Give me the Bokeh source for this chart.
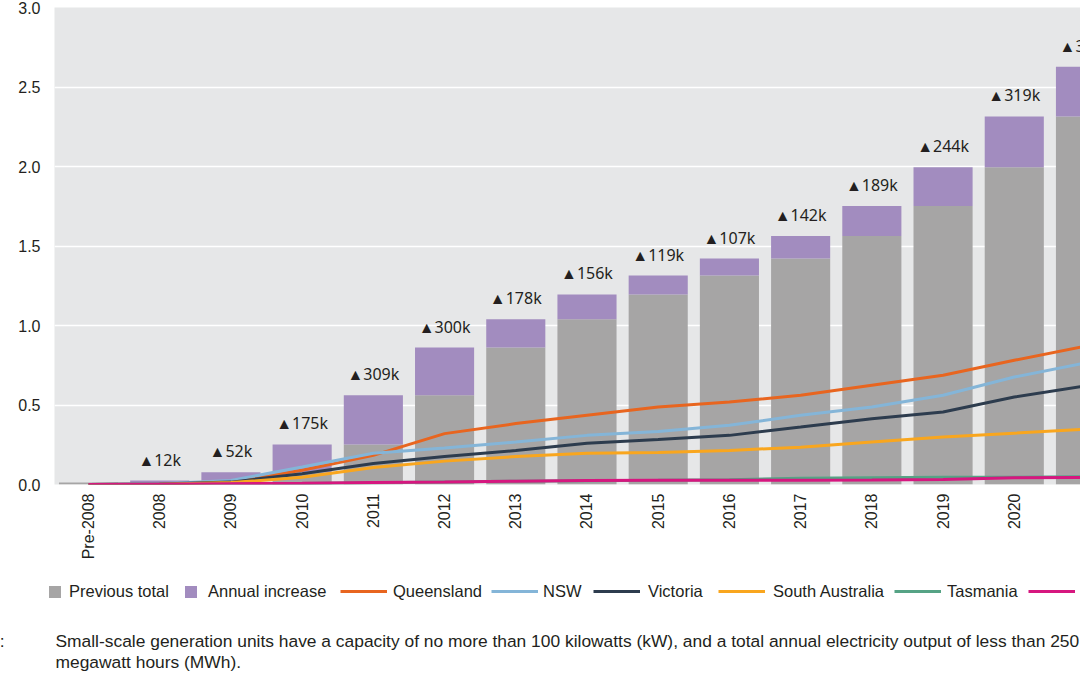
from math import pi
from bokeh.plotting import figure
from bokeh.layouts import column
from bokeh.models import (Range1d, FixedTicker, SingleIntervalTicker, NumeralTickFormatter,
                          Legend, LegendItem, Label)
from bokeh.core.properties import value
from bokeh.embed import file_html
from bokeh.resources import INLINE

# ---------------- data (millions of installations) ----------------
categories = ["Pre-2008", "2008", "2009", "2010", "2011", "2012", "2013", "2014",
              "2015", "2016", "2017", "2018", "2019", "2020", "2021"]
previous_total = [0.013, 0.013, 0.025, 0.077, 0.252, 0.561, 0.861, 1.039, 1.195,
                  1.314, 1.421, 1.563, 1.752, 1.996, 2.315]
annual_increase = [0.0, 0.012, 0.052, 0.175, 0.309, 0.300, 0.178, 0.156, 0.119,
                   0.107, 0.142, 0.189, 0.244, 0.319, 0.313]
increase_labels = ["", "▲12k", "▲52k", "▲175k", "▲309k", "▲300k", "▲178k", "▲156k",
                   "▲119k", "▲107k", "▲142k", "▲189k", "▲244k", "▲319k", "▲313k"]

queensland = [0.0, 0.003, 0.018, 0.09, 0.183, 0.32, 0.383, 0.435, 0.487, 0.519,
              0.561, 0.624, 0.687, 0.781, 0.87]
nsw = [0.0, 0.004, 0.025, 0.11, 0.197, 0.229, 0.267, 0.309, 0.333, 0.372,
       0.435, 0.487, 0.561, 0.676, 0.765]
victoria = [0.0, 0.003, 0.015, 0.068, 0.132, 0.176, 0.214, 0.26, 0.283, 0.309,
            0.361, 0.414, 0.456, 0.55, 0.62]
south_australia = [0.0, 0.002, 0.012, 0.045, 0.107, 0.147, 0.176, 0.197, 0.202, 0.214,
                   0.235, 0.267, 0.298, 0.323, 0.348]
tasmania = [0.0, 0.001, 0.003, 0.006, 0.011, 0.016, 0.021, 0.024, 0.026, 0.030,
            0.040, 0.043, 0.045, 0.046, 0.049]
act = [0.0, 0.002, 0.005, 0.008, 0.012, 0.015, 0.021, 0.025, 0.026, 0.027,
       0.027, 0.028, 0.031, 0.042, 0.045]

series = [("Queensland", queensland, "#e8651f"),
          ("NSW", nsw, "#84b5d8"),
          ("Victoria", victoria, "#2d3c4e"),
          ("South Australia", south_australia, "#f9a61e"),
          ("Tasmania", tasmania, "#56a385"),
          ("ACT", act, "#d6177f")]

note_label = "Note:"
footnote_1 = ("Small-scale generation units have a capacity of no more than 100 kilowatts (kW), "
              "and a total annual electricity output of less than 250")
footnote_2 = "megawatt hours (MWh)."

FONT = "Liberation Sans"
TXT = "#231f20"
GRAY = "#a6a5a5"
PURPLE = "#a28cbf"

xs = list(range(len(categories)))
tops = [a + b for a, b in zip(previous_total, annual_increase)]

# ---------------- main chart ----------------
p = figure(width=1080, height=570, output_backend="svg", toolbar_location=None,
           x_range=Range1d(-0.4775, 13.93), y_range=Range1d(0, 3.0),
           min_border_left=54, min_border_right=0, min_border_top=7, min_border_bottom=86)
p.frame_align = False
p.background_fill_color = "#e6e7e8"
p.border_fill_color = "white"
p.outline_line_color = None

p.vbar(x=xs, top=previous_total, bottom=0, width=0.83, fill_color=GRAY, line_color=None)
p.vbar(x=xs, top=tops, bottom=previous_total, width=0.83, fill_color=PURPLE, line_color=None)

for name, vals, col in series:
    p.line(xs, vals, line_color=col, line_width=3)

p.text(x=xs[1:], y=tops[1:], text=increase_labels[1:], text_align="center",
       text_baseline="middle", y_offset=-21, text_font=value("Noto Sans"),
       text_font_size="16px", text_color=TXT)

p.xaxis.ticker = FixedTicker(ticks=xs)
p.xaxis.major_label_overrides = {i: c for i, c in enumerate(categories)}
p.xaxis.major_label_orientation = pi / 2
p.yaxis.ticker = SingleIntervalTicker(interval=0.5)
p.yaxis.formatter = NumeralTickFormatter(format="0.0")
for ax in (p.xaxis, p.yaxis):
    ax.axis_line_color = None
    ax.major_tick_line_color = None
    ax.minor_tick_line_color = None
    ax.major_tick_out = 0
    ax.major_tick_in = 0
    ax.major_label_text_font = FONT
    ax.major_label_text_font_size = "16px"
    ax.major_label_text_color = TXT
p.xaxis.major_label_standoff = 9
p.yaxis.major_label_standoff = 10

p.xgrid.grid_line_color = None
p.ygrid.grid_line_color = "white"
p.ygrid.grid_line_width = 1.5

# ---------------- legend + footnote strip ----------------
H2 = 105
q = figure(width=1080, height=H2, output_backend="svg", toolbar_location=None,
           x_range=Range1d(0, 1080), y_range=Range1d(0, H2),
           x_axis_location=None, y_axis_location=None,
           min_border=0, min_border_left=0, min_border_right=0,
           min_border_top=0, min_border_bottom=0)
q.frame_align = False
q.grid.visible = False
q.outline_line_color = None
q.background_fill_color = "white"
q.border_fill_color = "white"

OFF = [-1000]
d_prev = q.vbar(x=OFF, top=OFF, width=1, fill_color=GRAY, line_color=None)
d_inc = q.vbar(x=OFF, top=OFF, width=1, fill_color=PURPLE, line_color=None)
line_renderers = []
for name, vals, col in series:
    line_renderers.append((name, q.line(x=OFF, y=OFF, line_color=col, line_width=3)))


def add_legend(label, renderer, x0, gw, gh, standoff):
    lg = Legend(items=[LegendItem(label=label, renderers=[renderer])],
                location=(x0, 74), orientation="horizontal",
                glyph_width=gw, glyph_height=gh, label_standoff=standoff)
    lg.padding = 0
    lg.margin = 0
    lg.spacing = 0
    lg.border_line_color = None
    lg.background_fill_alpha = 0
    lg.label_text_font = FONT
    lg.label_text_font_size = "16.5px"
    lg.label_text_color = TXT
    lg.label_height = 20
    q.add_layout(lg)


add_legend("Previous total", d_prev, 47, 15, 15, 7)
add_legend("Annual increase", d_inc, 183, 15, 15, 10)
line_starts = [340, 491, 593, 718, 894, 1028]
line_standoffs = [6, 5, 8, 8, 6, 6]
for (name, r), x0, so in zip(line_renderers, line_starts, line_standoffs):
    add_legend(name, r, x0, 47, 20, so)

q.add_layout(Label(x=4, y=35, text=note_label, text_font=FONT, text_font_size="17.4px",
                   text_color=TXT, text_baseline="middle", text_align="right"))
for txt, yy in ((footnote_1, 35), (footnote_2, 14)):
    q.add_layout(Label(x=55, y=yy, text=txt, text_font=FONT, text_font_size="17.4px",
                       text_color=TXT, text_baseline="middle", text_align="left"))

layout = column(p, q, spacing=0)
open("out.html", "w").write(file_html(layout, INLINE))
